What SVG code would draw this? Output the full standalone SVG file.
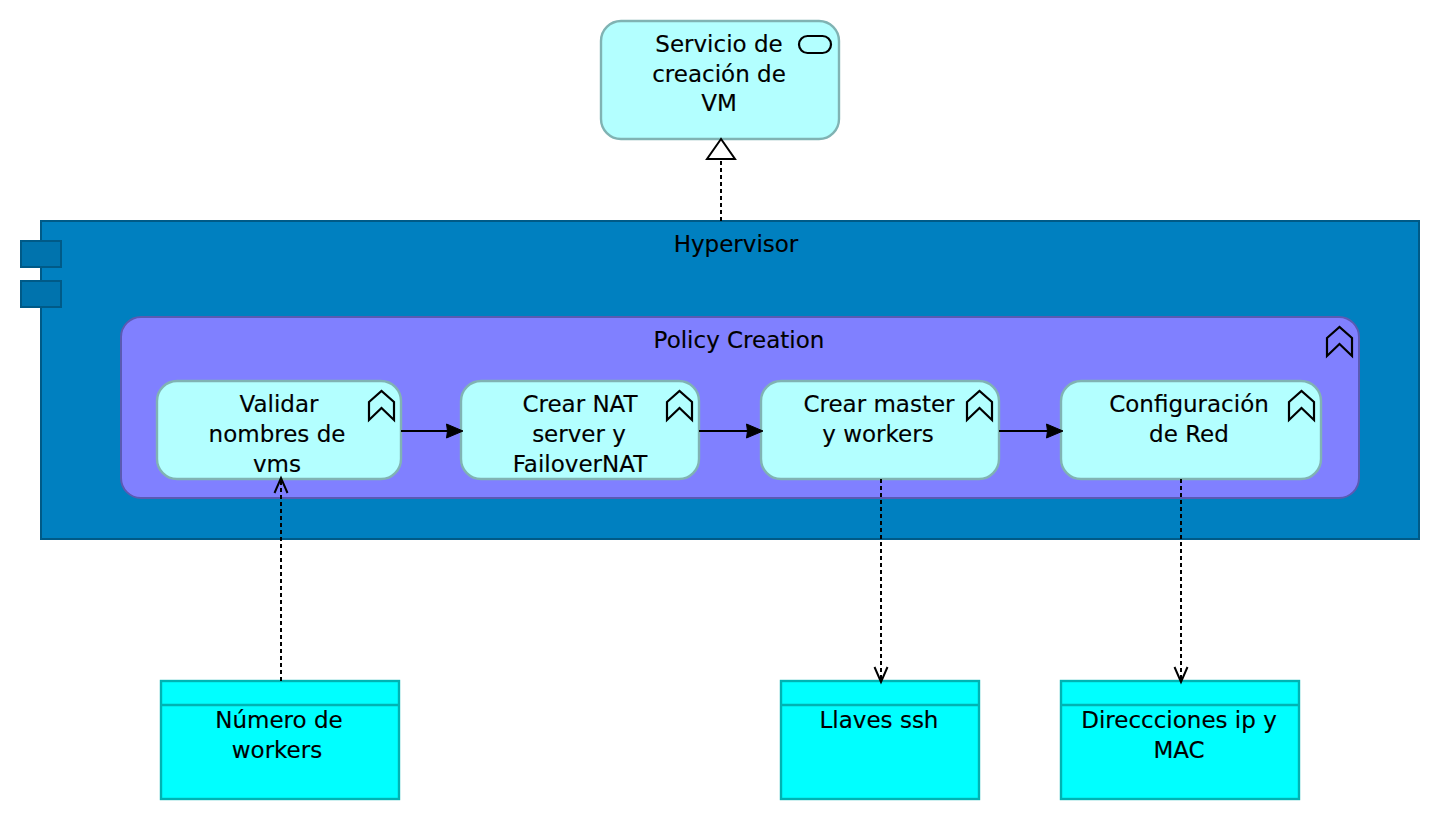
<svg xmlns="http://www.w3.org/2000/svg" width="1440" height="820" viewBox="0 0 1440 820">
<style>
text{font-family:"DejaVu Sans",sans-serif;font-size:23px;fill:#000;text-anchor:middle;stroke:#000;stroke-width:.15}
.svc{fill:#b3ffff;stroke:#80b3b3;stroke-width:2.400}
.proc{fill:#b3ffff;stroke:#80b3b3;stroke-width:2.400}
.data{fill:#00ffff;stroke:#00b3b3;stroke-width:2.400}
.hyp{fill:#0080c0;stroke:#005a87;stroke-width:2}
.tab{fill:#0073ad;stroke:#005a87;stroke-width:2}
.pol{fill:#8080ff;stroke:#5a5ab3;stroke-width:2}
.ico{fill:none;stroke:#000;stroke-width:2.200}
.sol{fill:none;stroke:#000;stroke-width:2}
.dash{fill:none;stroke:#000;stroke-width:2;stroke-dasharray:4 3}
.open{fill:none;stroke:#000;stroke-width:2}
.fillh{fill:#000;stroke:#000;stroke-width:1}
</style>
<defs>
<path id="chev" class="ico" d="M0 11L12.500 0L25 11V29L12.500 17L0 29Z"/>
</defs>
<g id="servicio">
<rect class="svc" x="601" y="21" width="238" height="118" rx="20"/>
<rect class="ico" x="799" y="36" width="32" height="17" rx="8.500"/>
<text x="719" y="52">Servicio de</text><text x="719" y="82">creación de</text><text x="719" y="111">VM</text>
</g>
<g id="hypervisor">
<rect class="hyp" x="41" y="221" width="1378" height="318"/>
<rect class="tab" x="21" y="241" width="40" height="26"/>
<rect class="tab" x="21" y="281" width="40" height="26"/>
<text x="736" y="252">Hypervisor</text>
</g>
<g id="policy">
<rect class="pol" x="121" y="317" width="1238" height="181" rx="20"/>
<use href="#chev" x="1327" y="327"/>
<text x="739" y="348">Policy Creation</text>
</g>
<g id="validar">
<rect class="proc" x="157" y="381" width="244" height="98" rx="20"/>
<use href="#chev" x="369" y="391"/>
<text x="279" y="412">Validar</text><text x="277" y="442">nombres de</text><text x="277" y="472">vms</text>
</g>
<g id="nat">
<rect class="proc" x="461" y="381" width="238" height="98" rx="20"/>
<use href="#chev" x="667" y="391"/>
<text x="580" y="412">Crear NAT</text><text x="579" y="442">server y</text><text x="580" y="472">FailoverNAT</text>
</g>
<g id="master">
<rect class="proc" x="761" y="381" width="238" height="98" rx="20"/>
<use href="#chev" x="967" y="391"/>
<text x="879" y="412">Crear master</text><text x="878" y="442">y workers</text>
</g>
<g id="red">
<rect class="proc" x="1061" y="381" width="260" height="98" rx="20"/>
<use href="#chev" x="1289" y="391"/>
<text x="1189" y="412">Configuración</text><text x="1189" y="442">de Red</text>
</g>
<g id="numero">
<rect class="data" x="161" y="681" width="238" height="118"/>
<line class="data" x1="161" y1="705" x2="399" y2="705"/>
<text x="279" y="728">Número de</text><text x="277" y="758">workers</text>
</g>
<g id="llaves">
<rect class="data" x="781" y="681" width="198" height="118"/>
<line class="data" x1="781" y1="705" x2="979" y2="705"/>
<text x="879" y="728">Llaves ssh</text>
</g>
<g id="direcciones">
<rect class="data" x="1061" y="681" width="238" height="118"/>
<line class="data" x1="1061" y1="705" x2="1299" y2="705"/>
<text x="1179" y="728">Direccciones ip y</text><text x="1179" y="758">MAC</text>
</g>
<g id="connectors">
<path class="dash" d="M721 221V159"/>
<path d="M721 139L707 159H735Z" fill="#fff" stroke="#000" stroke-width="2"/>
<path class="sol" d="M401 431H448"/><path class="fillh" d="M463 431L446.500 424L447.500 431L446.500 438Z"/>
<path class="sol" d="M699 431H748"/><path class="fillh" d="M763 431L746.500 424L747.500 431L746.500 438Z"/>
<path class="sol" d="M999 431H1048"/><path class="fillh" d="M1063 431L1046.500 424L1047.500 431L1046.500 438Z"/>
<path class="dash" d="M281 681V481"/><path class="open" d="M274.500 493L281 478L287.500 493"/>
<path class="dash" d="M881 479V680"/><path class="open" d="M874.500 667L881 682L887.500 667"/>
<path class="dash" d="M1181 479V680"/><path class="open" d="M1174.500 667L1181 682L1187.500 667"/>
</g>
</svg>
